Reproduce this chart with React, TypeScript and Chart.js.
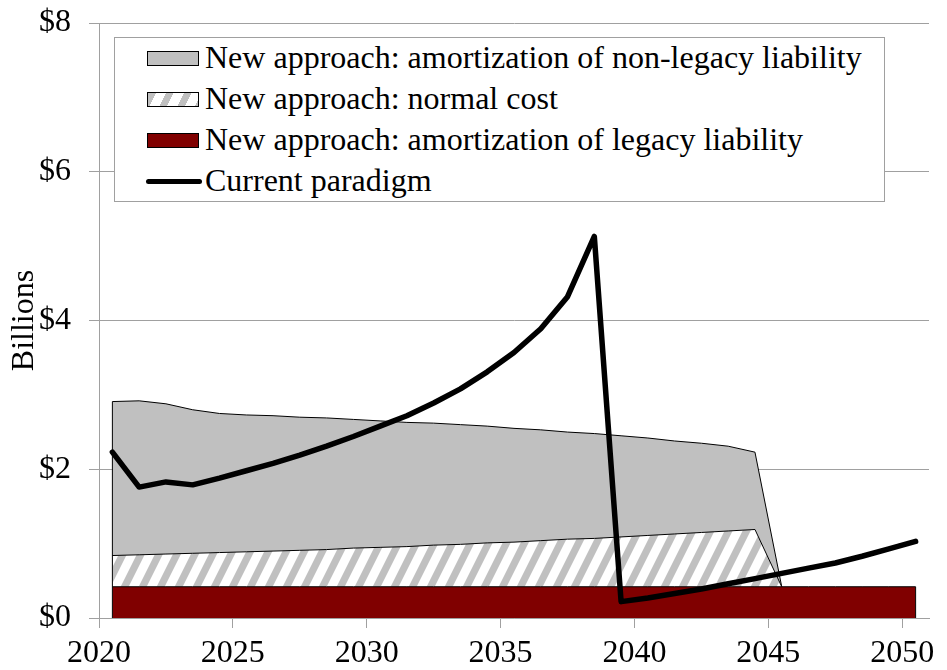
import React, { useEffect, useRef } from "react";
import { Chart, registerables } from "chart.js";

Chart.register(...registerables);

// ---- Data (values in $ billions) ----
const years = [
  2020, 2021, 2022, 2023, 2024, 2025, 2026, 2027, 2028, 2029, 2030,
  2031, 2032, 2033, 2034, 2035, 2036, 2037, 2038, 2039, 2040,
  2041, 2042, 2043, 2044, 2045, 2046, 2047, 2048, 2049, 2050,
];

const legacyAmortization = [
  0.42, 0.42, 0.42, 0.42, 0.42, 0.42, 0.42, 0.42, 0.42, 0.42, 0.42,
  0.42, 0.42, 0.42, 0.42, 0.42, 0.42, 0.42, 0.42, 0.42, 0.42,
  0.42, 0.42, 0.42, 0.42, 0.42, 0.42, 0.42, 0.42, 0.42, 0.42,
];

const normalCost = [
  0.42, 0.43, 0.44, 0.45, 0.46, 0.47, 0.48, 0.49, 0.5, 0.52, 0.53,
  0.54, 0.56, 0.57, 0.59, 0.6, 0.62, 0.64, 0.65, 0.67, 0.69,
  0.71, 0.73, 0.75, 0.77, 0, null, null, null, null, null,
];

const nonLegacyAmortization = [
  2.07, 2.07, 2.02, 1.93, 1.87, 1.84, 1.82, 1.79, 1.77, 1.73, 1.7,
  1.67, 1.64, 1.61, 1.57, 1.53, 1.49, 1.44, 1.41, 1.36, 1.31,
  1.25, 1.2, 1.14, 1.04, 0, null, null, null, null, null,
];

const currentParadigm = [
  2.23, 1.76, 1.83, 1.79, 1.88, 1.98, 2.08, 2.19, 2.31, 2.44, 2.58,
  2.72, 2.89, 3.08, 3.31, 3.57, 3.89, 4.32, 5.13, 0.22, 0.27,
  0.33, 0.39, 0.46, 0.53, 0.6, 0.67, 0.74, 0.83, 0.93, 1.03,
];

const yTickValues = [0, 2, 4, 6, 8];
const xTickValues = [2020, 2025, 2030, 2035, 2040, 2045, 2050];

const legendLabels = [
  "New approach: amortization of non-legacy liability",
  "New approach: normal cost",
  "New approach: amortization of legacy liability",
  "Current paradigm",
];

// values are plotted at mid-year
const MID_YEAR = 0.5;

const FONT = "'Liberation Serif', 'Times New Roman', serif";
const GRID = "#a0a0a0";
const GRAY_FILL = "#c0c0c0";
const RED_FILL = "#800000";

function makeHatch(): CanvasPattern | string {
  const P = 18;
  const H = P * 2;
  const w = 8;
  const c = document.createElement("canvas");
  c.width = P;
  c.height = H;
  const ctx = c.getContext("2d");
  if (!ctx) return "#ffffff";
  ctx.fillStyle = "#ffffff";
  ctx.fillRect(0, 0, P, H);
  ctx.fillStyle = GRAY_FILL;
  for (let k = -2; k <= 2; k++) {
    const x0 = k * P;
    ctx.beginPath();
    ctx.moveTo(x0, H);
    ctx.lineTo(x0 + w, H);
    ctx.lineTo(x0 + P + w, 0);
    ctx.lineTo(x0 + P, 0);
    ctx.closePath();
    ctx.fill();
  }
  const pat = ctx.createPattern(c, "repeat");
  return pat || "#ffffff";
}

export default function App() {
  const canvasRef = useRef<HTMLCanvasElement | null>(null);

  useEffect(() => {
    document.body.style.margin = "0";
    const canvas = canvasRef.current;
    if (!canvas) return;

    const xs = years.map((y) => y + MID_YEAR);
    const legacyTop = legacyAmortization.map((v) => v);
    const normalTop = normalCost.map((v, i) =>
      v === null ? null : legacyTop[i] + v
    );
    const grayTop = nonLegacyAmortization.map((v, i) =>
      v === null || normalTop[i] === null ? null : (normalTop[i] as number) + v
    );
    const pts = (arr: (number | null)[]) =>
      arr.map((v, i) => ({ x: xs[i], y: v }));

    const last = xs.length - 1;
    const hatch = makeHatch();

    const chart = new Chart(canvas, {
      type: "line",
      data: {
        datasets: [
          {
            label: legendLabels[2],
            data: pts(legacyTop),
            borderColor: "#000000",
            borderWidth: 1,
            backgroundColor: RED_FILL,
            fill: "origin",
            pointRadius: 0,
            tension: 0,
            order: 3,
          },
          {
            label: legendLabels[1],
            data: pts(normalTop),
            borderColor: "#000000",
            borderWidth: 1,
            backgroundColor: hatch as any,
            fill: "-1",
            pointRadius: 0,
            tension: 0,
            order: 4,
          },
          {
            label: legendLabels[0],
            data: pts(grayTop),
            borderColor: "#000000",
            borderWidth: 1,
            backgroundColor: GRAY_FILL,
            fill: "-1",
            pointRadius: 0,
            tension: 0,
            order: 5,
          },
          {
            label: legendLabels[3],
            data: pts(currentParadigm),
            borderColor: "#000000",
            borderWidth: 5.5,
            borderJoinStyle: "round",
            borderCapStyle: "round",
            fill: false,
            pointRadius: 0,
            tension: 0,
            order: 0,
          },
          {
            label: "left edge",
            data: [
              { x: xs[0], y: 0 },
              { x: xs[0], y: grayTop[0] },
            ],
            borderColor: "#000000",
            borderWidth: 1,
            fill: false,
            pointRadius: 0,
            order: 1,
          },
          {
            label: "right edge",
            data: [
              { x: xs[last], y: 0 },
              { x: xs[last], y: legacyTop[last] },
            ],
            borderColor: "#000000",
            borderWidth: 1,
            fill: false,
            pointRadius: 0,
            order: 1,
          },
        ],
      },
      options: {
        responsive: false,
        animation: false,
        devicePixelRatio: 1,
        events: [],
        layout: { padding: { top: 23, right: 18, left: 0, bottom: 0 } },
        plugins: {
          legend: { display: false },
          tooltip: { enabled: false },
        },
        scales: {
          x: {
            type: "linear",
            min: 2020,
            max: 2051,
            afterBuildTicks: (scale: any) => {
              scale.ticks = xTickValues.map((v) => ({ value: v }));
            },
            afterFit: (scale: any) => {
              scale.height = 52;
              scale.paddingLeft = 0;
              scale.paddingRight = 0;
              scale.paddingTop = 0;
              scale.paddingBottom = 0;
            },
            ticks: {
              autoSkip: false,
              maxRotation: 0,
              padding: 6,
              color: "#000000",
              font: { family: FONT, size: 32 },
              callback: (v: any) => String(v),
            },
            grid: {
              drawOnChartArea: false,
              drawTicks: true,
              tickLength: 10,
              color: GRID,
            },
            border: { color: GRID, width: 1 },
          },
          y: {
            min: 0,
            max: 8,
            afterBuildTicks: (scale: any) => {
              scale.ticks = yTickValues.map((v) => ({ value: v }));
            },
            afterFit: (scale: any) => {
              scale.width = 99;
              scale.paddingLeft = 0;
              scale.paddingRight = 0;
              scale.paddingTop = 0;
              scale.paddingBottom = 0;
            },
            ticks: {
              padding: 18,
              color: "#000000",
              font: { family: FONT, size: 32 },
              callback: (v: any) => "$" + v,
            },
            grid: {
              color: GRID,
              tickLength: 10,
              drawTicks: true,
            },
            border: { color: GRID, width: 1 },
            title: {
              display: true,
              text: "Billions",
              color: "#000000",
              font: { family: FONT, size: 32 },
              padding: { top: 5, bottom: 0 },
            },
          },
        },
      },
    });

    return () => chart.destroy();
  }, []);

  const rowTop = [40.5, 81.5, 122.5, 163.5];
  const swatchCenter = [58.5, 99.5, 140.5, 181.5];

  const swatchStyle = (i: number): React.CSSProperties => {
    const base: React.CSSProperties = {
      position: "absolute",
      left: 147,
      top: swatchCenter[i] - 7.5,
      width: 52,
      height: 15,
      boxSizing: "border-box",
      border: "1px solid #000",
    };
    if (i === 0) return { ...base, background: GRAY_FILL };
    if (i === 1)
      return {
        ...base,
        background:
          "repeating-linear-gradient(116.57deg, #c0c0c0 0px, #c0c0c0 7px, #ffffff 7px, #ffffff 16px)",
      };
    if (i === 2) return { ...base, background: RED_FILL };
    return {
      position: "absolute",
      left: 146,
      top: swatchCenter[i] - 2.75,
      width: 56,
      height: 5.5,
      borderRadius: 3,
      background: "#000",
    };
  };

  return (
    <div
      style={{
        position: "absolute",
        left: 0,
        top: 0,
        width: 947,
        height: 670,
        background: "#ffffff",
        overflow: "hidden",
      }}
    >
      <canvas ref={canvasRef} width={947} height={670} style={{ display: "block" }} />
      <div
        style={{
          position: "absolute",
          left: 114,
          top: 37,
          width: 771,
          height: 165,
          boxSizing: "border-box",
          border: `1px solid ${GRID}`,
          background: "#ffffff",
        }}
      />
      {legendLabels.map((label, i) => (
        <React.Fragment key={label}>
          <div style={swatchStyle(i)} />
          <div
            style={{
              position: "absolute",
              left: 205,
              top: rowTop[i],
              fontFamily: FONT,
              fontSize: 32,
              lineHeight: "32px",
              color: "#000",
              whiteSpace: "nowrap",
            }}
          >
            {label}
          </div>
        </React.Fragment>
      ))}
    </div>
  );
}
